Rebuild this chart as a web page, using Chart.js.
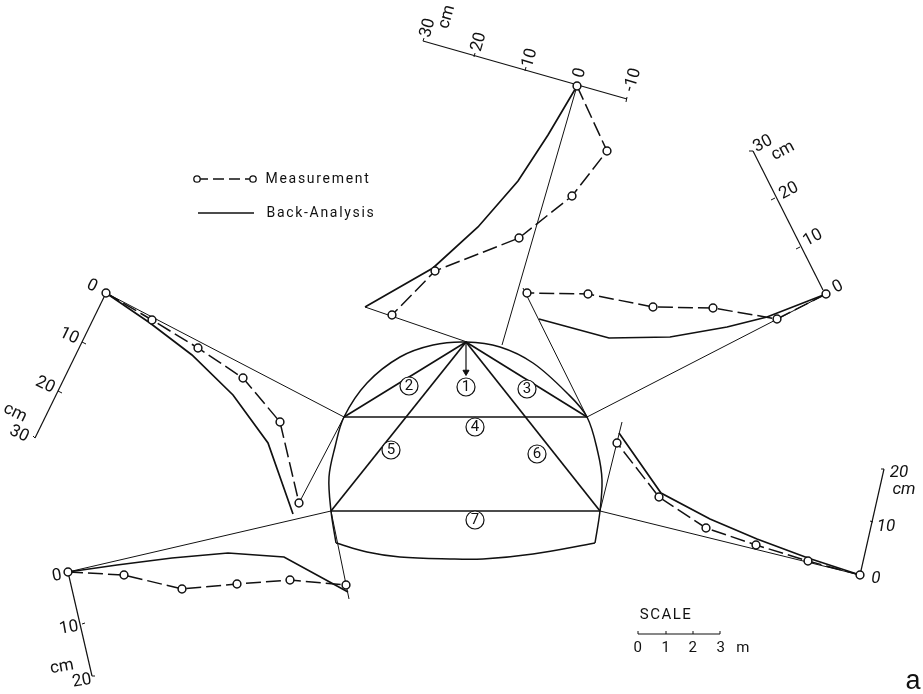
<!DOCTYPE html>
<html>
<head>
<meta charset="utf-8">
<title>Measurement and back-analysis</title>
<script src="https://cdn.jsdelivr.net/npm/chart.js@4"></script>
<style>
  html, body { margin: 0; padding: 0; background: #fff; }
  canvas { display: block; }
</style>
</head>
<body>
<canvas id="chart" width="923" height="694"></canvas>
<script>
let measureTop = [[577,86],[607,151],[572,196],[519,238],[435,271],[392,315]];
let backTop = [[577,86],[548,135],[518,181],[478,227],[433,268],[365,307]];
let measureRight = [[826,294],[777,319],[713,308],[653,307],[588,294],[527,293]];
let backRight = [[826,294],[767,317],[727,327],[670,337],[609,338],[539,319]];
let measureLeft = [[106,293],[152,320],[198,348],[243,378],[280,422],[299,503]];
let backLeft = [[106,293],[150,323],[192,355],[233,395],[268,443],[293,514]];
let measureLower = [[68,572],[124,575],[182,589],[237,584],[290,580],[346,585]];
let backLower = [[68,572],[117,565],[172,558],[228,553],[284,557],[348,592]];
let measureBottomRight = [[860,575],[808,561],[756,545],[706,528],[659,497],[617,443]];
let backBottomRight = [[860,575],[808,558],[757,539],[710,519],[661,493],[619,433]];

let archCurve = [[336,543],[331,511],[329,477],[335,447],[344,417],[367,383],[400,357],[433,345],[466,342],[500,347],[533,363],[567,393],[587,417],[598,453],[602,480],[600,511],[595,543]];
let invertCurve = [[336,543],[367,552],[400,557],[450,559],[483,559],[533,554],[595,543]];
let tunnelMembers = [
  [[466,342],[344,417]],
  [[466,342],[587,417]],
  [[466,342],[331,511]],
  [[466,342],[600,511]],
  [[344,417],[587,417]],
  [[331,511],[600,511]]
];
let leaderLines = [
  [[365,307],[467,342]],
  [[577,86],[502,345]],
  [[344,417],[106,293]],
  [[344,417],[299,503]],
  [[331,511],[68,572]],
  [[331,511],[349,599]],
  [[587,417],[826,294]],
  [[587,417],[523,288]],
  [[600,511],[860,575]],
  [[600,511],[622,422]]
];
let axisLines = [
  [[423,41],[627,99]],
  [[823,290],[753,151]],
  [[106,293],[35,438]],
  [[68,572],[92,676]],
  [[860,575],[884,469]]
];
let axisTicks = [
  [[423,41],[424,38]],[[474,57],[475,53]],[[525,71],[526,67]],[[627,97],[626,102]],
  [[753,151],[749,151]],[[775,198],[771,200]],[[800,247],[796,249]],
  [[82,342],[86,344]],[[58,391],[62,393]],[[35,438],[33,436]],
  [[82,624],[85,623]],[[92,676],[95,676]],
  [[873,522],[870,521]],[[884,469],[881,469]]
];
let scaleBar = [[638,634],[720,634]];
let scaleTicks = [
  [[638,634],[638,631]],[[666,634],[666,631]],[[693,634],[693,631]],[[720,634],[720,631]]
];
let arrowShaft = [[466,342],[466,372]];
let legendMeasure = [[197,179],[253,179]];
let legendBack = [[198,213],[254,213]];

let memberNames = ["1","2","3","4","5","6","7"];
let memberAt = [[466,387],[409,386],[527,389],[475,427],[391,450],[537,454],[475,520]];

let topTicks = ["30","cm","20","10","0","-10"];
let topTicksAt = [[428,28],[447,17],[479,42],[530,58],[580,73],[633,80]];
let rightTicks = ["0","10","20","30","cm"];
let rightTicksAt = [[838,287],[813,238],[789,191],[763,144],[783,151]];
let leftTicks = ["0","10","20","cm","30"];
let leftTicksAt = [[92,286],[69,336],[45,385],[15,413],[19,434]];
let lowerTicks = ["0","10","cm","20"];
let lowerTicksAt = [[57,576],[69,628],[62,667],[82,681]];
let bottomRightTicks = ["0","10","20","cm"];
let bottomRightTicksAt = [[876,579],[886,527],[899,473],[904,490]];
let scaleTickLabels = ["0","1","2","3","m"];
let scaleTickLabelsAt = [[638,648],[666,648],[693,648],[721,648],[743,648]];

function toPoints(list) {
  return list.map(function (p) { return { x: p[0], y: p[1] }; });
}

function lineSet(list, width, extra) {
  return Object.assign({
    data: toPoints(list),
    showLine: true,
    borderColor: "#111",
    borderWidth: width,
    pointRadius: 0,
    tension: 0,
    fill: false,
    clip: false
  }, extra || {});
}

function measureSet(list) {
  return lineSet(list, 1.5, {
    borderDash: [15, 5],
    pointRadius: 3.9,
    pointBorderWidth: 1.5,
    pointBorderColor: "#111",
    pointBackgroundColor: "#fff"
  });
}

let datasets = [];
// numbered circles first so that they sit over the members
datasets.push(lineSet(memberAt, 0, {
  showLine: false,
  pointRadius: 9,
  pointBorderWidth: 1.2,
  pointBorderColor: "#111",
  pointBackgroundColor: "#fff"
}));
[measureTop, measureRight, measureLeft, measureLower, measureBottomRight].forEach(function (m) {
  datasets.push(measureSet(m));
});
datasets.push(lineSet(legendMeasure, 1.4, {
  borderDash: [11, 5],
  pointRadius: 3.2,
  pointBorderWidth: 1.3,
  pointBorderColor: "#111",
  pointBackgroundColor: "#fff"
}));
datasets.push(lineSet(arrowShaft, 1.2, {
  pointRadius: [0, 3.5],
  pointStyle: "triangle",
  pointRotation: 180,
  pointBackgroundColor: "#111",
  pointBorderColor: "#111",
  pointBorderWidth: 1
}));
[backTop, backRight, backLeft, backLower, backBottomRight, legendBack].forEach(function (b) {
  datasets.push(lineSet(b, 1.7));
});
tunnelMembers.forEach(function (m) { datasets.push(lineSet(m, 1.7)); });
datasets.push(lineSet(archCurve, 1.5, { tension: 0.35 }));
datasets.push(lineSet(invertCurve, 1.5, { tension: 0.35 }));
leaderLines.forEach(function (l) { datasets.push(lineSet(l, 1)); });
axisLines.forEach(function (l) { datasets.push(lineSet(l, 1.2)); });
axisTicks.forEach(function (l) { datasets.push(lineSet(l, 1)); });
datasets.push(lineSet(scaleBar, 1.2));
scaleTicks.forEach(function (l) { datasets.push(lineSet(l, 1)); });

const tickFont = "17px Roboto";
const slantFont = "italic 17px Roboto";

function writeGroup(chart, texts, at, font, angle, spacing) {
  let ctx = chart.ctx;
  ctx.save();
  ctx.fillStyle = "#111";
  ctx.font = font;
  ctx.textAlign = "center";
  ctx.textBaseline = "middle";
  ctx.letterSpacing = (spacing || 0) + "px";
  texts.forEach(function (t, i) {
    ctx.save();
    ctx.translate(chart.scales.x.getPixelForValue(at[i][0]), chart.scales.y.getPixelForValue(at[i][1]));
    ctx.rotate(angle * Math.PI / 180);
    ctx.fillText(t, 0, 0);
    ctx.restore();
  });
  ctx.restore();
}

let textPlugin = {
  id: "drawingText",
  afterDatasetsDraw: function (chart) {
    writeGroup(chart, memberNames, memberAt, "15px Roboto", 0);
    writeGroup(chart, topTicks, topTicksAt, tickFont, -74);
    writeGroup(chart, rightTicks, rightTicksAt, tickFont, -28);
    writeGroup(chart, leftTicks, leftTicksAt, tickFont, 26);
    writeGroup(chart, lowerTicks, lowerTicksAt, tickFont, -10);
    writeGroup(chart, bottomRightTicks, bottomRightTicksAt, slantFont, 0);
    writeGroup(chart, scaleTickLabels, scaleTickLabelsAt, "15px Roboto", 0, 0.5);
    writeGroup(chart, ["SCALE"], [[666,615]], "15px Roboto", 0, 1.5);
    writeGroup(chart, ["Measurement"], [[318,179]], "14px Roboto", 0, 1.7);
    writeGroup(chart, ["Back-Analysis"], [[321,213]], "14px Roboto", 0, 1.7);
    writeGroup(chart, ["a"], [[913,682]], "27px 'Liberation Sans'", 0);
  }
};

let myChart = new Chart(document.getElementById("chart"), {
  type: "scatter",
  data: { datasets: datasets },
  plugins: [textPlugin],
  options: {
    responsive: false,
    animation: false,
    devicePixelRatio: 1,
    layout: { padding: 0, autoPadding: false },
    plugins: { legend: { display: false }, tooltip: { enabled: false } },
    scales: {
      x: { type: "linear", min: 0, max: 923, display: false },
      y: { type: "linear", min: 0, max: 694, reverse: true, display: false }
    }
  }
});
</script>
</body>
</html>
